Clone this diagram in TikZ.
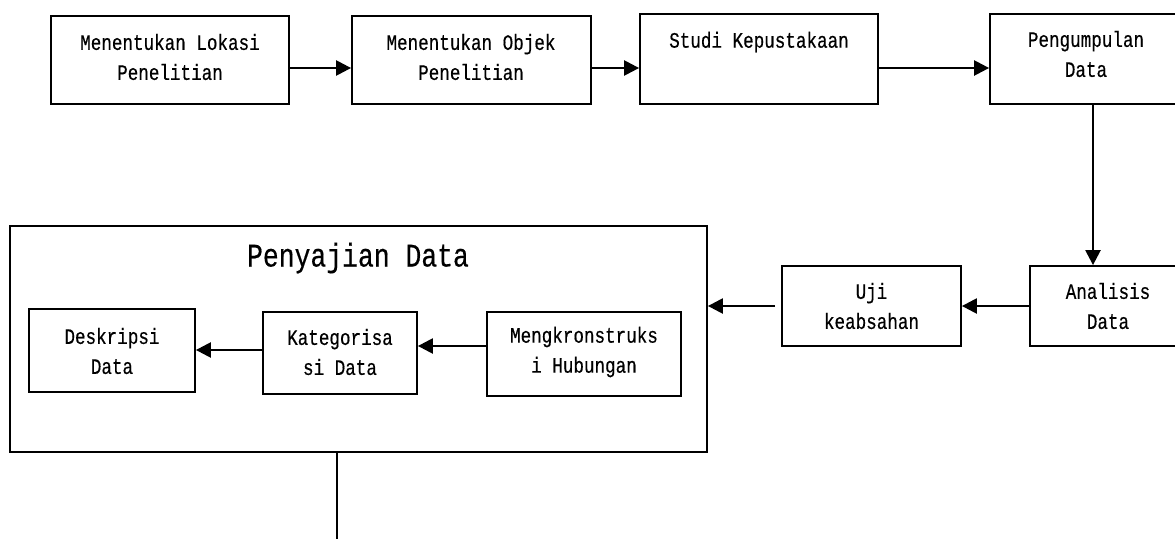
\documentclass[tikz,border=0pt]{standalone}
\usepackage{fontspec}
\newfontfamily\diagfont[FakeStretch=0.8,FakeBold=0.4]{Liberation Mono}
\usetikzlibrary{arrows.meta}
\begin{document}
\begin{tikzpicture}[x=1pt,y=-1pt,
  box/.style={draw=black,line width=1.8pt,inner sep=0pt,rectangle},
  lbl/.style={inner sep=0pt,align=center,text=black,font=\fontsize{22}{30}\selectfont\diagfont},
  ttl/.style={inner sep=0pt,align=center,text=black,font=\fontsize{33}{38}\selectfont\diagfont},
  arr/.style={line width=2.4pt,-{Triangle[length=15pt,width=15pt]}},
  ln/.style={line width=2.4pt}]
\useasboundingbox (0,0) rectangle (1175,538);
\fill[white] (0,0) rectangle (1175,538);
% top row boxes
\node[box,minimum width=238pt,minimum height=88pt] (b1) at (170,60) {};
\node[box,minimum width=239pt,minimum height=88pt] (b2) at (471.5,60) {};
\node[box,minimum width=238pt,minimum height=90pt] (b3) at (759,59) {};
\node[box,minimum width=200pt,minimum height=90pt] (b4) at (1090,59) {};
\node[lbl] (t1) at (170,57) {Menentukan Lokasi\\Penelitian};
\node[lbl] (t2) at (471,57) {Menentukan Objek\\Penelitian};
\node[lbl] (t3) at (759,42) {Studi Kepustakaan};
\node[lbl] (t4) at (1086,54) {Pengumpulan\\Data};
% middle row
\node[box,minimum width=160pt,minimum height=80pt] (an) at (1110,306) {};
\node[box,minimum width=179pt,minimum height=80pt] (uji) at (871.5,306) {};
\node[lbl] (tan) at (1108,306) {Analisis\\Data};
\node[lbl] (tuji) at (871.5,306) {Uji\\keabsahan};
% big box
\node[box,minimum width=697pt,minimum height=226pt] (big) at (358.5,339) {};
\node[ttl] (title) at (358,258) {Penyajian Data};
\node[box,minimum width=166pt,minimum height=83pt] (des) at (112,350.5) {};
\node[box,minimum width=154pt,minimum height=82pt] (kat) at (340,353) {};
\node[box,minimum width=194pt,minimum height=84pt] (mk) at (584,354) {};
\node[lbl] (tdes) at (112,351) {Deskripsi\\Data};
\node[lbl] (tkat) at (340,352) {Kategorisa\\si Data};
\node[lbl] (tmk) at (584,352) {Mengkronstruks\\i Hubungan};
\coordinate (end) at (337,540);
% connectors
\draw[arr] (b1.east |- 0,68) -- (b2.west |- 0,68);
\draw[arr] (b2.east |- 0,68) -- (b3.west |- 0,68);
\draw[arr] (b3.east |- 0,68) -- (b4.west |- 0,68);
\draw[arr] (b4.south -| 1093,0) -- (an.north -| 1093,0);
\draw[arr] (an.west) -- (uji.east);
\draw[arr] ([xshift=-6pt]uji.west) -- (big.east |- uji.west);
\draw[arr] (mk.west |- 0,346) -- (kat.east |- 0,346);
\draw[arr] (kat.west |- 0,350) -- (des.east |- 0,350);
\draw[ln] (big.south -| end) -- (end);
\end{tikzpicture}
\end{document}
